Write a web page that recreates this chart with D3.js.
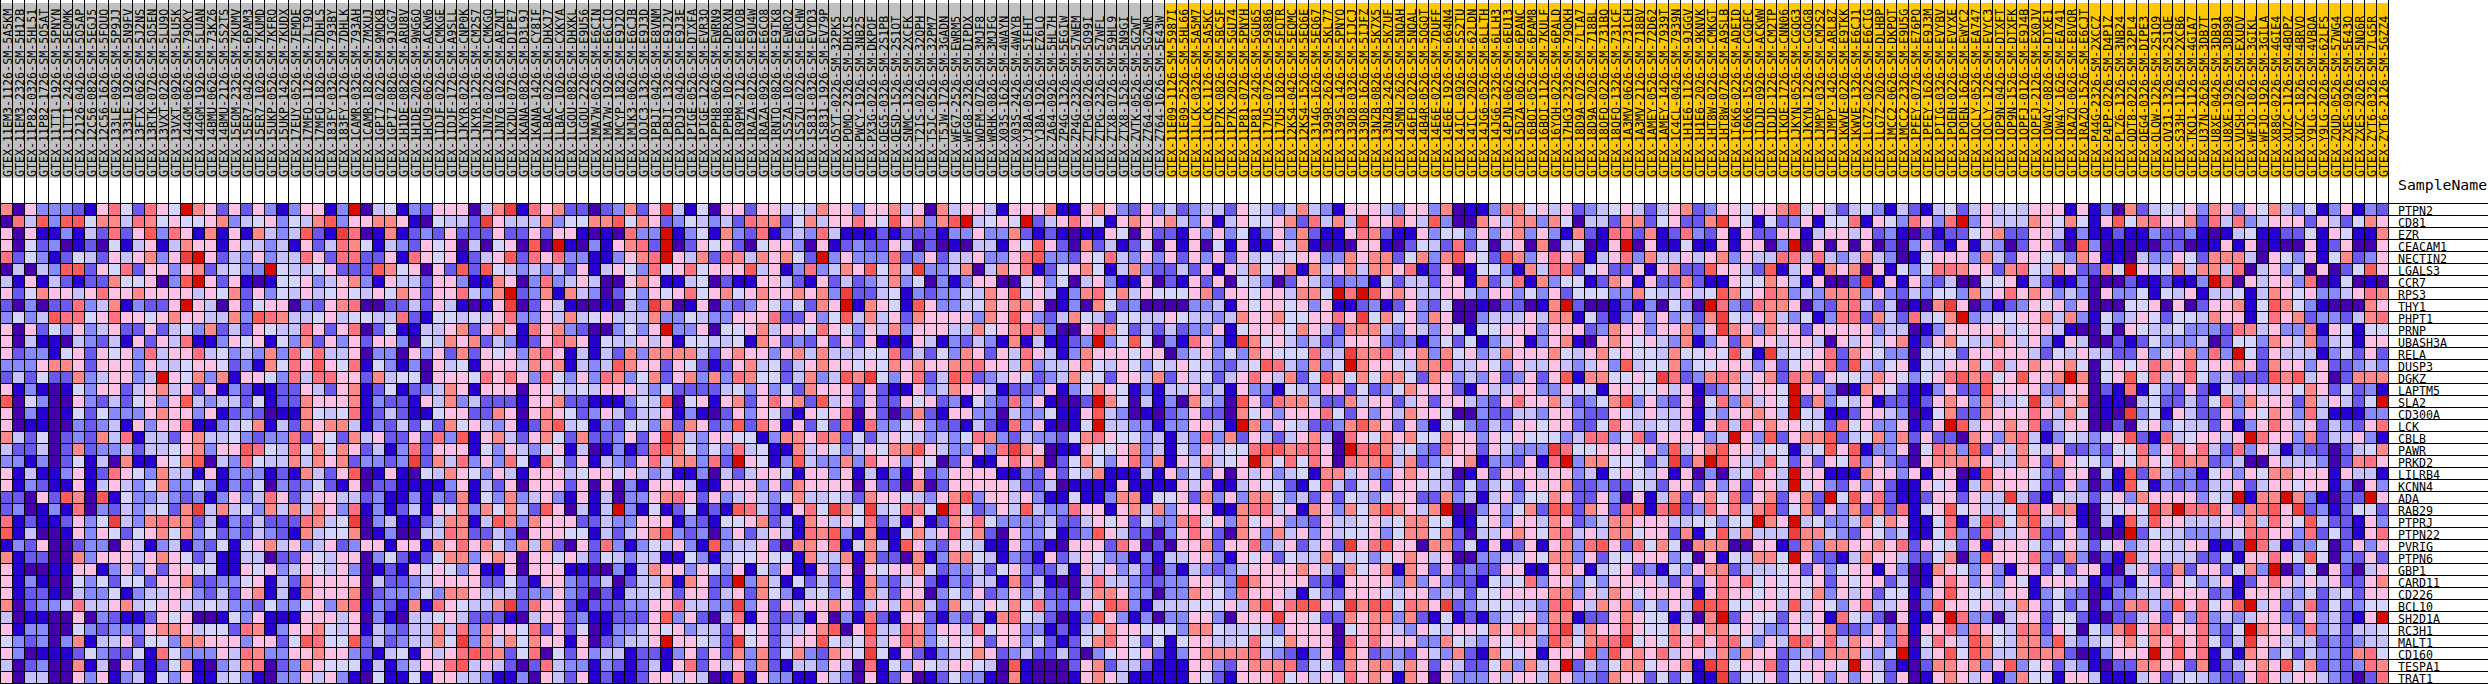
<!DOCTYPE html>
<html><head><meta charset="utf-8">
<script src="https://cdn.jsdelivr.net/npm/d3@7"></script>
<style>html,body{margin:0;padding:0;background:#fff}svg{display:block}text{font-family:"DejaVu Sans Mono",monospace;fill:#000}</style>
</head><body><div id="chart"></div>
<script>
const normalSamples = "11EM3-1126-SM-5A5KM 11EM3-2326-SM-5H12B 11P82-0326-SM-5HL51 11P82-1726-SM-5O5AT 11TT1-1926-SM-5PNYN 11TT1-2426-SM-5EQMK 12126-0426-SM-5O5AP 12C56-0826-SM-5EGJ5 12C56-1626-SM-5FQUO 133LE-0926-SM-5P9JJ 133LE-1926-SM-5N9FV 13FTX-0626-SM-5J2NS 13RTK-0726-SM-5O5EN 13VXT-0226-SM-5LU9O 13VXT-0926-SM-5LU5K 144GM-0626-SM-79OKY 144GM-1926-SM-5LUAN 14BMU-0626-SM-73KZ6 14BMU-2126-SM-5S2TS 15EOM-2326-SM-7KUMV 15ER7-0426-SM-6PAM3 15ER7-1026-SM-7KUMD 15UKP-0526-SM-7KFRO 15UKP-1426-SM-7KUDX 17EUY-0526-SM-7EMDE 17MFQ-1126-SM-7LT9O 17MFQ-1826-SM-7DHLS 183FY-0326-SM-793BY 183FY-1226-SM-7DHLK 1CAMR-0326-SM-793AH 1CAMR-1826-SM-7MXUJ 1GPI7-0226-SM-9MQKB 1GPI7-0826-SM-9JGG7 1H1DE-0826-SM-ARU8V 1H1DE-2026-SM-9WG6O 1HCU9-0626-SM-ACKW6 1IDJF-0226-SM-CMKGE 1IDJF-1726-SM-A9SLL 1JKYR-0226-SM-CNP0K 1JKYR-1226-SM-CM2S7 1JN76-0226-SM-CMKGO 1JN76-1026-SM-ARZNT 1K2DU-0726-SM-DIPE7 1KANA-0826-SM-D3L9J 1KANA-1426-SM-CY8IF 1LBAC-0226-SM-DHXJ7 1LBAC-1026-SM-CXKYA 1LGOU-0826-SM-DHXKL 1LGOU-2226-SM-E9U56 1MA7W-0526-SM-E6CIN 1MA7W-1926-SM-E6CIO 1MCYP-1826-SM-E9J2O 1MJK3-0626-SM-E6CJB 1OJC3-1326-SM-E9J3D 1PBJI-0426-SM-E8VNM 1PBJI-1326-SM-E9J2V 1PDJ9-0426-SM-E9J3E 1PIGE-0526-SM-DTXFA 1PIGE-1226-SM-EVR3O 1PPH8-0626-SM-EWRN9 1PPH8-1026-SM-DPRXN 1R9PM-2126-SM-E8VOB 1RAZA-0226-SM-E9U4W 1RAZA-0926-SM-E6CO8 1RNTQ-0826-SM-E9TK8 1S5ZA-1026-SM-EWRO2 1S5ZU-0226-SM-E6CHW 1S831-0326-SM-EVYD3 1S831-1926-SM-EV79P O5YT-0226-SM-32PK5 POMQ-2326-SM-DHXIS PWCY-1926-SM-3NB25 PX3G-0226-SM-DKPOF QEG5-0326-SM-2S1PB QESD-1526-SM-2S1OT SNMC-1326-SM-2XCFK T2IS-0226-SM-32QPH T5JC-0526-SM-32PM7 T5JW-1726-SM-3GADN WFG7-2526-SM-EWRM5 WFG8-2326-SM-DIPDX WOFM-0726-SM-3MJF8 WRHK-0826-SM-3MJFG X03S-1626-SM-4WAYN X03S-2426-SM-4WAYB YJ8A-0526-SM-5IFHT YJ8A-1926-SM-EZ6LQ ZA64-0926-SM-5HL7H ZP4G-1326-SM-5EGIW ZP4G-2326-SM-57WEM ZTPG-0226-SM-5O99I ZTPG-2326-SM-57WFL ZTX8-0726-SM-59HL9 ZTX8-1526-SM-5N9GI ZVTK-0526-SM-5GZWT Z764-0626-SM-5GZWR Z764-1626-SM-5E43W".split(" ");
const tumorSamples = "11E09-1126-SM-5987I 11E09-2526-SM-5HL66 11LCK-0326-SM-5A5M7 11LCK-1126-SM-5A5KC 11P7K-0826-SM-5BC5F 11P7K-2026-SM-5GU74 11P81-0726-SM-5PNYH 11P81-2426-SM-5GU65 117US-0726-SM-59886 117US-1826-SM-5FQTR 12KS4-0426-SM-5EQMC 12KS4-1526-SM-5EQ6E 1314G-1626-SM-5EQ67 1399R-2626-SM-5KL77 1399S-1426-SM-5PNYO 139D8-0326-SM-5IJCJ 139D8-1626-SM-5IJFZ 13NZB-0826-SM-5K7X5 13NZB-2426-SM-5K7UF 145MN-2626-SM-5NQAH 146FQ-0226-SM-5NQAL 14B4R-0526-SM-5QGQT 14E6E-0226-SM-7DUFF 14E6E-1926-SM-664N4 14ICL-0926-SM-5S2TU 14ICL-2026-SM-62LDN 14JG6-0526-SM-6LLTH 14JG6-2326-SM-6LLH3 14PJN-0626-SM-6EU13 15DZA-0626-SM-6PANC 16BQI-0526-SM-6PAM8 16BQI-1126-SM-7KULF 16YQH-0226-SM-6PALD 17HG3-2326-SM-79OKH 18D9A-0726-SM-7LTA7 18D9A-2026-SM-718BL 18QFQ-0226-SM-731BQ 18QFQ-1326-SM-731CF 1A3MV-0626-SM-731CH 1A3MV-2126-SM-718BV 1AMEY-0526-SM-72D62 1AMEY-1426-SM-7939T 1C4CL-0426-SM-7939N 1H1E6-1126-SM-9JGGV 1H1E6-2026-SM-9KNVK 1HT8W-0226-SM-CMKGT 1HT8W-0726-SM-A9SLB 1I6K6-0226-SM-ADEID 1I6K6-1526-SM-CGQFC 1IDJD-0926-SM-ACKWW 1IDJD-1226-SM-CM2TP 1IKOE-1726-SM-CNN06 1JKYN-0526-SM-CGQG3 1JKYN-1226-SM-CGQG8 1JMPY-0326-SM-CM2S2 1JMPY-1426-SM-ARL8Z 1KWVE-0226-SM-E9TKK 1KWVE-1326-SM-E6CJ1 1LG7Z-0226-SM-E6CIG 1LG7Z-2026-SM-DLHBP 1MCC2-0626-SM-DKPQT 1MCC2-2326-SM-E9U5G 1PFEY-0726-SM-E76PO 1PFEY-1626-SM-E9J3M 1PIIG-0326-SM-EVYBV 1POEN-0226-SM-EVYXE 1POEN-1626-SM-EWYC2 1QCLY-0526-SM-EA747 1QCLY-1226-SM-EVYC3 1QP9N-0426-SM-DTXFT 1QP9N-1526-SM-DTXFK 1QPFJ-0126-SM-E9J4B 1QPFJ-2126-SM-EX0JV 1QW4Y-0826-SM-DTXE1 1QW4Y-1626-SM-EA741 1RAZQ-0626-SM-E8VOR 1RAZQ-1526-SM-E6CJT P44G-2326-SM-2XCCZ P4PP-0226-SM-D4P1Z PLZ6-1326-SM-3NB24 QDT8-0226-SM-32PL4 QEG4-0326-SM-DIPE3 QLQW-1226-SM-2S1Q9 QV31-1326-SM-2S1QE S33H-1126-SM-2XCB6 TKQ1-1126-SM-4GIA7 U37N-2626-SM-3DB7T U8XE-0426-SM-3DB91 U8XE-1926-SM-3DB98 VUSH-0226-SM-EXUOV WFJO-1026-SM-3GIKL WFJO-1926-SM-3GILA X88G-0226-SM-4GIE4 XUZC-1126-SM-4BOPZ XUZC-1826-SM-4BRVO Y9LG-1226-SM-4VBQA Y9LG-2026-SM-62LFS ZQUD-0526-SM-57WG4 ZXES-0926-SM-5E43O ZXES-2026-SM-5NQ6R ZYT6-0326-SM-7LG5R ZYT6-2126-SM-5GZZ4".split(" ");
const genes = ["PTPN2","CD81","EZR","CEACAM1","NECTIN2","LGALS3","CCR7","RPS3","THY1","PHPT1","PRNP","UBASH3A","RELA","DUSP3","DGKZ","LAPTM5","SLA2","CD300A","LCK","CBLB","PAWR","PRKD2","LILRB4","KCNN4","ADA","RAB29","PTPRJ","PTPN22","PVRIG","PTPN6","GBP1","CARD11","CD226","BCL10","SH2D1A","RC3H1","MALT1","CD160","TESPA1","TRAT1"];
const levels = "abcdefghijkl".split("");
const palette = ["#4500AD","#2700D1","#6B58EF","#8888FF","#C7C1FF","#D5D5FF","#FFC0E5","#FF8989","#FF7080","#FF5A5A","#EF4040","#D60C00"];
const block0 = [
"h a g d d d c b g i f c i g f l h g c g c g d b d",
"a i e j d j j f h h e i h f g f f g h d e f g d f",
"g a g b b d b e c i c g j d i g b h b g b h e d e",
"g a f c d a b c a f b e g b e h g g b g e e d e b",
"i c f d b c f e c g e g h d g k l g c e d g d e e",
"a e a e d j j c g f i c g g d g h c e f d d l f e",
"e b g b e c b c c h f f g a d j l g c g b a b f f",
"g c f h g g e g i g g h g g g g e g f h c g d f e",
"c a d a c c i d e h b d c c g l g e a g c f g g a",
"d f d e j i i f g i g g f g h g g e e h d j i h e",
"g a g c f d g d e g c c g c e f d h c e c g f e e",
"g a e b b a e d c e b g c g e i b b d g f g b f d",
"g c d d b f g c g f g d i e g g i e f d e d h d i",
"d d d g h h g c g g g d g e e f g g f c d b h f i",
"c e c f c c h d e g g d e l g f h d h b g g f d i",
"g b d b a b f d g g c e g h e g c g b d c b b c c",
"j a f d a a g d c e c f g d g j e d e e c f b c c",
"g a d b a b f c f d d d g h g g d g b c d c a b b",
"g a b b a a d c d e b g d g g i b b d e f h b e c",
"h e c f a c d c h e i b e e c g h e e f d c d d i",
"e c c e a c h c d d e c e e f g h d g g j i f e i",
"d d b d a c f b e a h b b g f h j a e d i f e e h",
"g b e b b d g b c i g f d h e e b g b d d d b c b",
"g b d c b b g b e g e d f h d d f d b d c f a d c",
"c c a g c j h a j b f d d e d c d b d g d e i g c",
"c d a b d b i a d c e d e f c h k e h e f d h e h",
"i b c b b c g d f k e d h i h h c e b d c e c c c",
"j b e a a b g d g f c f g h f h d f c d c e d c b",
"b d c g a a c d d a g e b d e b d c f b f g h e g",
"h b c c a a h d g g g e g h g f c e b b e e a c c",
"g b a a b b g g b d g d g c g g f f b b g f g d e",
"g b d b a a f d f c f f c g g h c c d d f g b e c",
"g b c c b a e d d f b d e e g g d c e c g h b e b",
"h a c d d e i e e g h e f g g e e f e d d c f d d",
"e a b b a a g a d c b b c g f g a a b f d g b b b",
"g b d d a a f d c d d d g h h g e f f c i h b d g",
"f d c d a d h b e e g c f f d h h g g g d g g c f",
"g d a b b b c f d c c f b i f d d d g e i h d d g",
"e a c d a a h b e a g c b c f h b a d e h i a c d",
"g a e e a a g d g b d e b f d g b b e f d b a d d"];
const block1 = [
"g g b d l a e f b d c g g g a e h k b i g h c c a",
"e h j d g g h h g b a f e e c k g e e e h d f f h",
"j c b k i a b h b c d c g c c c g c c g c g g b a",
"g c e i h f b e d c g f g a e a f g a j a l b a d",
"i g c i i c c g b i g f g b c e g j c i g i d d b",
"e f g c c c j h f g a g c j c j f e d e d e c g b",
"g d e g h d b g e e c g g d b b h g a d i d e g e",
"g e f g f e g f h g c g g i e d h l c d h b h e d",
"d c g h i a a c c e c g e b a b g k a c g e b a a",
"e f g e f f e e i c b f f e f e g i d d g e h e f",
"i g c g i a c f b b e e g h c g h g b i g h d c a",
"h c g d g c g g d a f e h g h c e d b c g i h g b",
"f i e e g a d d a g d g c h c g f g d h i g b e b",
"g j g f i b f d b d a g e f b g g g e h g h b e d",
"e i i g g c h e f f a g g g f i g i g d i f d g d",
"g e c g h b c f b c d e h g b g g g a g g f e f e",
"h g g g h b d c c b g e h d e c c c b g g h c c b",
"h f e f i b c e c b b f g g c c h g a g h g f c d",
"h g h h e b d c e c f c h f g e d g b c h j e f b",
"c g f c h e g c c g c i d j b g h e c g h f c h c",
"f h f h g c e b d i c g g g b f d g e d f g b e a",
"e h g h c d d c d k c h e i d g d i f b i f c g b",
"h e c g j a b g b a f e h g f d g e b g g g e f g",
"d f c b g a c c b b b b d g b e c g a g g g c g a",
"e g g e e c d b b d b d c h b f d h d e g d b g b",
"e h g d i b d b c e b g f h d h f h e c j g a e b",
"i h e f k a d e b b c e h h b e j h d h g g g c c",
"h e f f h a b d a a e e i h c c e d a g g g f f b",
"d e g c d g g b g g b h g i g h f d h e h c a g c",
"g f e g g a d f c b c f h h d g h g a g g f g e c",
"g f e g d a b c b g f g f d g b b g a g g g b b a",
"h g g g g a e c c d e g g g g c c f c b g g d c c",
"h g g g h a c d d d f d h h g e e e c d d g d c a",
"f g d h i b d c b h b i g f e e h k c i g g c b c",
"g g g e g a d b a e e f g e c c c b a e g g c d b",
"g h f e g b e d c e e h e i d h g g f i c g c f a",
"j i f f j c e c d e e h f k d h e h f h g g b g a",
"g h g g d c b e f b g e g i j i h c f i a f c g d",
"h g f f f b e b d e g g i j e g e c a c i e d d b",
"g e g d b a f b b f b g g e e d b b d a g e c g b"];
const block2 = [
"c d h c g k e b f a g g c g g e f e h g g d g g h",
"h j f h g c d f e d e c i h h c f h e g g i g f j",
"b a i d d l b d f b h d c i b d e d i e b b b c b",
"b g h i c l a c g f g c a f g g d a g b c d c c g",
"b d g h i l g e h c i h e h g h f c l d g d d d i",
"e g f d i f g i f g g g j e g b d i d e h g j f h",
"a a g h g b b e f a c b b g g e c b g c e c d e h",
"a c f d g f g i f g h f g h g g h g h d k c c e f",
"b a e d k h a b g a d c d g f d f c h g l b h g f",
"g e e e h d d f e d d g g g i c c g d f j e h e g",
"a d f d g l d d g a f f g h e g g f i g f d g e h",
"f e e g e g b f f e e f b h g c d c g c g c g b b",
"e c h d h h h h e c g h g g d g h e h e e e f f i",
"e j h g g c g f c b c g h e f c e g h g g f g f h",
"i h d f h c g h d h d i h f f c e h d e j h k f d",
"g g g e d f c c c c e f d g d f c h g g g c g c b",
"b b d f e j a f g b g h c g i g h c j e g c g c c",
"g e c e e g b d b a c g d g f c b g f g i a g c a",
"d c f f d h c h g c d j c i g b g c f c i b i d d",
"c d g c g k h e d g g f f b d h h g i h c f c e g",
"b d b c i j h f d f d i e f b b h e g f d e g f h",
"e d c g i e h h d i c l g f b d j e d d h d i g g",
"g f g e d e b b d a e c e g g f b g g d g b e b d",
"g a d b g g g e b b g g g d g c h g g g g a g c c",
"e a d d g h i g c g d e g e d f h e e f e c h g g",
"e l d b f b c f b c b j i e c b g i f k h f k e f",
"e d d g g g b d c b f f g h c e b h g e g f i c e",
"e c e g h j d c d a d g c e g e b i h j d b h b b",
"i d b d f e g d b j d e e g c a h h g i b f h e b",
"f e d e e b b f d b e f f g f f b h e e h b h c c",
"a d b e h g g d g f d g b f d g b b g d g a g f g",
"e a c e e h b h g c c l d h e b f c e c g b h d c",
"c b e e f g c g g c e g c h f d b e f d f b h e c",
"c c d d g g i e e d d k d g c g e g g h g c e g e",
"b c c c g j d g c a e i b g c c d b g a d b i c b",
"b d d e g f g d e e c g f g c e e g h j a g j e e",
"c d e e g l g g f e c k f g c e g g j f e f i e g",
"e e b c c b d g c g c h d h c f h d c h g f k f b",
"d c b c e b g i c g e g d h c b e e d g e a i b f",
"c b b c g g e g e a b i b g d d b b g e d a g b c"];
const block3 = [
"e g a h e g g e b g g g h b b g h g d c g d e c d",
"g h d h j l e f g f l c e g i g f b g h g g h e d",
"c c c b d d g d d h c b c b a b b g f a g c c b g",
"e a c a b a e e b g f j g c a h c e b c f a g b g",
"c d g c e e g d d g i j d d c g f i e d g d g c g",
"e k d d e h a e h g i b c f g h f b e h d c c e c",
"d f a d b d g g a a f g d f a e g d b b g a c b g",
"b d c d d f e h g j f g e b d h i f h e g f f f g",
"b j g d d e f h g h h g a b d a h f c d a a a a d",
"c h g g g g d h g j g d c e h f e c f f e e g f e",
"d g g g e e h f g h i h d a a g i h f c e c e c d",
"b g e b d c e d b h b e b b c d l d f j f a d b i",
"c e c f d h g c g e i g e b d h g g g f g g a d e",
"g h g g h h i g g e h d e e g h f e g f d f e g f",
"g i c e j i c d e g f c d e h f f c g g e h c g e",
"b g d e h g g e b c c d g b d f h g f b d b e e g",
"g f g c d b f d c i d g b a a c l h f a e b d a h",
"c h c b g g d d a e d d f b b g j e d a b a c d g",
"f g d c c b e c b i d g b a b f l e e d d b d d g",
"f e d e d f i h d c e d d c f h i g f f d e b e d",
"h j g e d d g d i k h g a b b g f f g h d e b f d",
"d g f a c g b b g i g h a c f h f d g i d h b g e",
"b g c d g g g g b b d c g c f e h b b b e b g d f",
"a h a c g g g g g e c c e a b b b b g b b b b g e",
"f e d g h j d g g e g d b b f b b d h h b f f g c",
"i i f l i f c d g e j e d d i g g b g h e h d g g",
"b g b c h g i f d d d d e c c e g f g c f d d h i",
"f h e g i f h c a g d d f b c d j g e c c a d g i",
"j g d c g f e b b g d c b a g g g c i g a c a g g",
"a h b d h h f e b d c b g c e g f d d b d b e e g",
"g h f c d d e c f g d c c e b g e g d e c a d b e",
"e g c b d c e e b h c e b a a e i e e d c c d d g",
"g g a d f d g c d g d e c c a e h h g d d a d d h",
"h h e c h f e g f h f i d c d g f j i d b e e e f",
"g g c b d c e b h i f e c a b d j g d b d a d d g",
"i h d g g e i f g g d d b c b e f h g g f f f d h",
"i h d f g f g c g g d f c b c f h i g f c f b f g",
"g c b d e f h g c d e c c e c a d f g f g c b d g",
"d g f e g g f e a j b a a a c g h c e e c b b b g",
"g a b c f d d b a h b a a a b g h g e b b b b b g"];
const block4 = [
"e e c g f e d e h e d b g g g e d g g d h a b b d",
"g b e g f f g h c i e h e k g g i g e j d a a h g",
"d g d f b d g d h c b b g i h c b b g d f f d g d",
"a f b g b b g e h b a b a g g b a c f e c i c f a",
"d g c g e f e f g g d d h g h h c f h d h j g f c",
"g b g e h f g h b h e g h e h h g i b c g a b f f",
"c g a f e d a c g e d c d d b f c e e c g g b h c",
"h c g g f g g e h h f l i l j g h g e e g g e d g",
"d e b g f g g f g d g b b c d b c g d c f a a b a",
"e d e h g g h f f g g i g k f h f g d h g a a d e",
"d g b f g g g f h g e c h h h e d g e d g f b f f",
"g d b k h f g e d e c d g g g d c d b d f c f b d",
"g d f d h g f f f i e e k h h i e g h d h f g d e",
"e d c e f j i e d h d f l h g g f e h h i e e g f",
"f c e g i g e h c f j h f h f h h f c h g d e d g",
"d e b g d d b f e d g g c f c d f h g g g c b g e",
"e d a j g c i h h e c c h e g g c e g c g g e d c",
"c c a h f g d g g g i f c g d g e h g g f a a d c",
"g e b l h d g f e c c d h j h g c g d b f f d c e",
"i d h c g e c e g h e a i g f h g h f f h g g d g",
"g e f f i j j h i i g a l i j h e f d c h g g c g",
"h e f g l h f i f i g a i h h j e h c d f g h b d",
"c g a g e g d e f b h h e g d d g h g f e a b g c",
"g b b e g f f c b f i e c f g c g g f e e c f c e",
"h d g d h h f d e c g c f e d f g g c c h d e b e",
"g b b h i i e g b h g d h f h j h g e h l a a d g",
"f g d h f g g d d c g e e f g e f h h f f b b f g",
"g c a h g d h e g d g e f f g d f h h f h c a e e",
"h c g g i d e g c e g c k g i j g g a h h c f b g",
"g d b g f g c f e e h f e f d f g h g e g a a d d",
"d c d e g g g g h g e c h f g h b h g c g c d c c",
"g e d k h g g g g c c b g g g g d h d g d c c b f",
"g f d i g g g e b f d c g g g f e g g d e e c f f",
"f f g e h j g i j j g f k h j j f i h g k c d e f",
"g d a g g g k g g f c c h g h h d h c b f b c b d",
"h f e e f e d g g g g a f g h g e d g f e g g f h",
"g e e f i f f h g g g a i g i g g g d d h f e d g",
"h h h h i e d c b d g b h g c d d c g e d h c b h",
"g d c g h h h i c e f c h g h h e h g c g e c c f",
"f c b g g g i f g e g f i g h g b h g a g d d d g"];
const block5 = [
"h h f g e g c d e f g e c e g h c d g g f g g h j",
"e h h d h f a e e c h h c f g c c h k g f b f c d",
"g h d g d b h c b i i c h b c i d c g b g c c g g",
"e g a h a e f a b g l a g b b f b b g b g g a d l",
"j h d g i g h b e g i d h e e g e g h d g e e i i",
"d b h e i i c f g c c g b g h c c j g g e c j b e",
"e i b h d f f b c h g b g c c h c b b g f f h g e",
"g d f d g c f f f d d h f e e g e f j h f g i h d",
"c c a b h l c a a b c b d a f d a l i d c i h h g",
"e e g e h h b f c b d g d g d e c h k f e g h e d",
"g g g d g g g c d h g g d g g h d g k h g d h g g",
"e g b d g h b a g h g f g e d h b d g c h g g e g",
"h g g g h f e g h f g f f e h f f g f j f b k e f",
"d g e e g e d e g d j e f f h d f f g g g d g c f",
"c d g c g j b h h f f g f k i c d h i h e g h c i",
"e g g d d g f f b g g f f g e g b c d g e g g f l",
"g i g g h e c d f h j d g d c g a f i d h e g f l",
"c e e d g g d c c g f e g e e g b e d g g h g e l",
"d g g f g g c c f i g e e f e g b g i e i g h g g",
"f g f f f d e i i d f i c g g g g d e l g d j c g",
"e d d d k i f f g g g f g d j e g h j g g e f f b",
"d c g b i l d h h f f f c e k c h l j g e e i f c",
"g g g e g g d e b f g f e g b g a d a e f i g e l",
"f c g g g h c c d c c f e c g g c g d g c g g e l",
"g d f f h g c c g d a g b e h c g h f i c g h c g",
"d f h c j j c h g c i j b i k c d i g i e h j c f",
"d g g e h g c d e h h g g g e e f f d f f l h g l",
"g h g f h i e g e h h f g g c h b f j e h e e e k",
"b c g b g h d i j g c i f h f a h h h a a g g b c",
"e e g f h h d g c f f g g g d f a g b f e h h f l",
"g g b b g h g b e f g c d b f d g h h c e e e f g",
"e f i d g g d f d g g g g e c g c g i g i f g f g",
"g g g g h h d g e h g f g g g g b g i g g f g f g",
"f e e d i j g e h g h d f d g e k j j f f g g e j",
"e f g d h h b c c g h g f f b e a h l c g f f c g",
"g h h e i k e h g g i g f f h f g h h f g e d d g",
"f g g d j h f h i i k f g f i g i g i i f d g e j",
"f f g b g g g j d j g h g i e g g e h d h g g c d",
"h d h e g l c e d f h h f g g h b k j f g g i c f",
"e g g e h g d d c h g g c f c f b b k c f f g c f"];
const block6 = [
"f g e c e f d b e c b e f c e g e f e g g g b g b",
"g b f f i b g f d i g d i l d g e e e h g f h f b",
"b e g g e g c d b a c b c c f g h c c g g e b d b",
"a g a g a g a c a d g c b g b e d a c g g c a j d",
"e i e d e h e d a b f g g g d h e c g g f f d h g",
"g b h g h a g b f d f i i h g g c h i f e h g c c",
"b g a a c k b g b g d c e a a f f g b e c b b d a",
"e d h h h d g d c e d f f d h e g i g h g d e d a",
"a d c h i e c e a b a h k g a c b c d g f g d g a",
"f b d i i c h e c i e f h l d e f f g g h e h d b",
"c g g g g g d e e a b d g g g g g e f g g e b a a",
"g e a g e g e g h b c g h f e e h g e g d b g e a",
"f g i c h g f d d a f f f c g g g g g e c f e g e",
"g g i c j e d f g b f e g g h f i e g h g g h f a",
"h c g f f e h g f d f g i j h i f g j g g h l h a",
"g g d a b h g f c b b d g c c j g g g g d d g g a",
"c h d f e g b c c b c g h g d h e e f k e h g h a",
"f e b b c g g e d a b f h c c h g g g i g e h f a",
"f f c i f g d d g b c g l j e g g h g i c e g g a",
"h h j c e f h d h c g c c a h g d h i e b d f e d",
"e f j g j b d d g a f i h d j c g e h f e g c c d",
"g c g f i d g d c a g h h h h g e e h g c h g f f",
"g g b b b h g g d g b g g a b j g g g f d c g g a",
"f g d c g d g c b b g f g b e h g g g f c c g d a",
"h c l f j g i c b b c g g c g e e k e c b f e e c",
"h c g d h c h c i b f g j f g e e f j i g i h b a",
"e f d d e h f h g b b f i b e j i f h j e e g b a",
"h h e d c g f d e b b f i d c i e e g i c c g d a",
"h d h h g g h g i c g f f c g b g g g f d f g e c",
"g c c b e h g g e c c f h a d j g g g i d c h d a",
"c g d f g g b g d a b h g f d g d b g g c f c g g",
"f g c g f g g c e a b g i g d g d g f b g g g e b",
"f h d g e g c f f b d g j g f f e g g b d f d c a",
"e g f d g i e e g a d j g g f g e e h g d f c e a",
"e g b i f e c a g b b g l i d d a e g g c f f c b",
"f g h c c d g d h b g g i d i g f e i h c g f a f",
"i g i e h g g d i a f i g e j h f e h h d j e d e",
"e d h h h e d f l b e g j f j h e e h i h h c a b",
"g g g f l g e c b a c h h g h d g j d f g c e d b",
"f g d g d g f c g a b g h g e g b d h f f b g g e"];
const block7 = [
"d a h c e f e g d h g d g f h e d f b d g b d c",
"g j f h i g g h c i e i d e g g g c g e c f h g",
"b c b b d c c d b a b e f b b c c f b g f b b h",
"a b a b a c c a b b g b g a b a a g b c g a a g",
"b b a e d d g f c h h h e a g f d g b f h c d g",
"h f l g e f h e h h e i a e g d f a g a c f j g",
"a a c b b c b b d l i a g e g g d i a b f a b a",
"g d d f b f e g b e e f b e h g f g d d e g i h",
"a a f f g a g a c g g h b f j h f d b a a a h g",
"f d e g f c f f e h g g b f i g h c d d c e h i",
"e a g f e e f d d d c i h e g d d h b g f b f f",
"a c b c f d d d e a c f f d h g e h c e f b g g",
"e c c g d f g h d i d l f c g e e e b d f c g c",
"f g f g i h g i f g g h g c h g g d g c c d e d",
"f g j f i e g i f d e c c c j h j e g a c h h h",
"c b i b f d c g c b f e g e e g f h g c f c d b",
"b b a e f c c e c f i d h g g g c h e g e c f l",
"b a k d f b g e c c g d g f h g d i e b b b d d",
"a c a f g d f e e c g b d g i g e g c e d c g i",
"f g j c b i e f g g e g l i g g d h c e e g d b",
"c f f i d g i g i e c i d g e b d c c a c e f h",
"d g f h g f i h h c d e a a g e e e d a c h i g",
"f b j c h e d d b f g d g f h h g g g b g e e b",
"c b j f b d c d c e e g c e g g f g g b d a g d",
"f g d h g g g g d f e l b h h l h d b a c c l g",
"e f g f k h l i i j g d h i j g k c d b c f f c",
"e b j e j g g e e e g g h e i g f j e c c b g d",
"a a l c f e e d d d e f i i g g d i c f c b g i",
"f g d e g f e g g b b c l i e b d d f a c g d g",
"c b k e g e e e c c f b g g i g f j f a d c g c",
"b a e g d c h c g g c f h d l a c f a g c a e g",
"c c b f g c g f d e g b c g i g e g e g c c g h",
"b d d e e g g g g c d b g g g e d f c e f c g g",
"d c h i e d j g i f g j l e g c e i c f c d f f",
"a c c e g c g d i d e d e g g d c g d e c b g l",
"d h k g h i g g i d c f l h g g d i d e c e e f",
"f g h f h g i g i f c e k g g e e e c d c d e e",
"d g g g l g j g i b e b h g d f c e d d c h i f",
"a c c h h g g c h b c e g h g j f h c d c d i h",
"b b b e g c e f e d c c g i g e g g e d c a c i"];

const blocks = [block0,block1,block2,block3,block4,block5,block6,block7];
const samples = normalSamples.concat(tumorSamples).map(s=>"GTEX-"+s);
const cells = [];
genes.forEach((g,r)=>{
  const row = blocks.flatMap(b=>b[r].split(" "));
  row.forEach((lv,c)=>cells.push({r,c,lv}));
});
const W=2488,H=684;
const x=d3.scaleBand().domain(d3.range(samples.length)).range([0,2388]);
const y=d3.scaleBand().domain(d3.range(genes.length)).range([203,683]);
const color=d3.scaleOrdinal(levels,palette);
const phen=i=>i<normalSamples.length?"#C0C0C0":"#FFC800";
const svg=d3.select("#chart").append("svg").attr("width",W).attr("height",H).attr("viewBox",`0 0 ${W} ${H}`);
svg.append("g").selectAll("rect").data(samples).join("rect")
  .attr("x",(d,i)=>x(i)).attr("y",3).attr("width",x.bandwidth()).attr("height",175).attr("fill",(d,i)=>phen(i)).attr("shape-rendering","crispEdges");
svg.append("g").selectAll("text").data(samples).join("text")
  .attr("transform",(d,i)=>`translate(${x(i)+11.5},177) rotate(-90)`).attr("font-size",11.65).text(d=>d);
svg.append("g").selectAll("rect").data(cells).join("rect")
  .attr("x",d=>x(d.c)).attr("y",d=>y(d.r)).attr("width",x.bandwidth()).attr("height",y.bandwidth()).attr("fill",d=>color(d.lv)).attr("shape-rendering","crispEdges");
const grid=svg.append("g").attr("stroke","#000").attr("shape-rendering","crispEdges");
grid.selectAll("line.v").data(d3.range(samples.length+1)).join("line").attr("class","v")
  .attr("x1",i=>i*x.bandwidth()+.5).attr("x2",i=>i*x.bandwidth()+.5).attr("y1",0).attr("y2",684);
grid.selectAll("line.h").data(d3.range(genes.length+1)).join("line").attr("class","h")
  .attr("x1",0).attr("x2",W).attr("y1",i=>203+i*y.bandwidth()+.5).attr("y2",i=>203+i*y.bandwidth()+.5);
svg.append("g").selectAll("text").data(genes).join("text")
  .attr("x",2398).attr("y",(d,i)=>y(i)+y.bandwidth()).attr("font-size",11.65).text(d=>d);
svg.append("text").attr("x",2398).attr("y",190).attr("font-size",14.8).text("SampleName");
</script></body></html>
